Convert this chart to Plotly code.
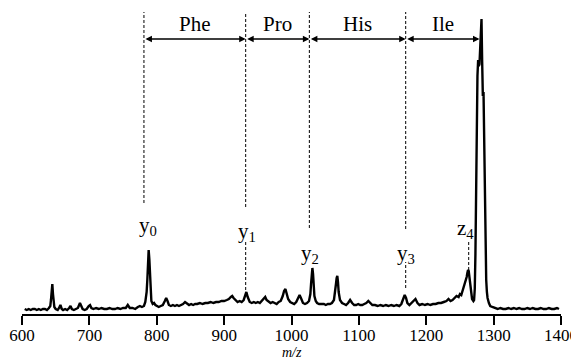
import plotly.graph_objects as go

# ---- spectrum (m/z, relative intensity) ----
mz = (
    [604, 607, 610, 613, 616, 619, 622, 625, 628, 631, 634, 637, 640]
    + [642, 643, 644, 645, 646, 647, 648, 650]
    + [653, 655, 657, 659, 661, 664, 667, 670, 672, 674, 677, 680, 683, 686, 688, 690, 693, 696, 699, 701, 703]
    + [706, 710, 714, 718, 722, 726, 730, 734, 738, 742, 746, 750, 754, 757, 760, 764, 768, 772, 775, 778]
    + [781, 783, 785, 786, 787, 788, 789, 790, 791, 792, 794, 796, 798, 800]
    + [803, 806, 809, 812, 814, 816, 818, 821, 824, 827, 830, 833, 836, 839, 842, 845, 848, 851, 854, 857,
       860, 864, 868, 872, 876, 880, 884, 888, 892, 896, 900, 904]
    + [907, 910, 912, 914, 917, 920, 923, 926, 929, 931, 933, 935, 938, 941, 944]
    + [947, 950, 953, 956, 959, 961, 963, 966, 969, 972, 975, 978, 981, 984, 987, 989, 991, 993, 995, 998,
       1001, 1004, 1007, 1010, 1012, 1014, 1017, 1020, 1023, 1026, 1028, 1029, 1030, 1031, 1032, 1033, 1034,
       1036, 1038, 1041, 1044]
    + [1048, 1051, 1054, 1057, 1060, 1063, 1065, 1066, 1067, 1068, 1069, 1070, 1072, 1075, 1078, 1081, 1084,
       1087, 1090, 1093, 1096, 1099, 1102, 1105, 1108, 1111, 1114, 1117, 1120, 1124, 1128]
    + [1132, 1136, 1140, 1144, 1148, 1152, 1156, 1160, 1163, 1166, 1168, 1170, 1172, 1175, 1178, 1181, 1184,
       1187, 1190, 1194, 1198, 1202, 1206, 1210, 1214, 1218, 1222, 1226, 1230, 1233, 1236, 1239]
    + [1242, 1245, 1248, 1250, 1252, 1254, 1256, 1258, 1260, 1261, 1262, 1263, 1264, 1265, 1266, 1267, 1268,
       1269, 1270, 1271, 1272, 1273, 1274, 1275, 1276, 1277, 1278, 1279, 1280, 1281, 1282, 1283, 1284, 1285,
       1286, 1287, 1288, 1289, 1290, 1291, 1293, 1295, 1298]
    + [1302, 1306, 1310, 1314, 1318, 1322, 1326, 1330, 1334, 1338, 1342, 1346, 1350, 1354, 1358, 1362, 1366,
       1370, 1374, 1378, 1382, 1386, 1390, 1394, 1397]
)
intensity = (
    [5, 4, 5, 4, 5, 5, 4, 5, 4, 5, 5, 4, 6]
    + [8, 14, 24, 30, 20, 11, 7, 5]
    + [4, 6, 9, 5, 4, 5, 4, 6, 8, 5, 4, 5, 6, 11, 7, 5, 4, 5, 8, 9, 6]
    + [5, 6, 5, 6, 5, 5, 6, 5, 5, 6, 5, 6, 6, 9, 6, 6, 5, 7, 8, 7]
    + [8, 12, 22, 34, 52, 64, 55, 35, 20, 13, 10, 11, 9, 8]
    + [7, 8, 9, 13, 16, 13, 9, 8, 9, 8, 9, 8, 9, 10, 12, 10, 9, 10, 9, 10,
       10, 11, 10, 11, 11, 12, 11, 12, 12, 13, 13, 14]
    + [15, 17, 18, 16, 14, 12, 13, 12, 14, 18, 22, 17, 12, 11, 12]
    + [11, 12, 11, 13, 15, 17, 14, 12, 11, 12, 11, 10, 12, 13, 18, 23, 25, 21, 15, 12,
       11, 10, 12, 16, 19, 16, 11, 10, 11, 13, 20, 30, 41, 46, 40, 28, 18,
       13, 11, 10, 10]
    + [10, 9, 10, 10, 11, 14, 22, 30, 36, 38, 32, 22, 14, 11, 10, 9, 11,
       14, 11, 9, 9, 10, 9, 9, 10, 11, 13, 11, 9, 9, 8]
    + [9, 8, 9, 8, 9, 8, 9, 8, 10, 15, 19, 16, 11, 9, 11, 14, 15,
       11, 9, 10, 9, 10, 9, 10, 10, 11, 11, 12, 13, 15, 13, 14]
    + [16, 18, 17, 20, 19, 23, 27, 32, 37, 41, 44, 43, 38, 31, 24, 18, 15,
       14, 13, 14, 25, 60, 130, 200, 238, 254, 248, 250, 262, 280, 295, 252, 218,
       222, 158, 95, 56, 34, 22, 16, 11, 8, 7]
    + [6, 5, 6, 5, 5, 6, 5, 6, 5, 6, 5, 5, 6, 5, 6, 5, 5,
       6, 5, 5, 6, 5, 5, 6, 5]
)

x_ticks = [600, 700, 800, 900, 1000, 1100, 1200, 1300, 1400]

# fragment ion positions (y-series boundaries) and residue names
fragment_mz = [781, 932, 1026.5, 1169.5]
arrow_end_mz = 1279
residues = ["Phe", "Pro", "His", "Ile"]

# ion labels: text, m/z, height
ion_labels = ["y<sub>0</sub>", "y<sub>1</sub>", "y<sub>2</sub>", "y<sub>3</sub>", "z<sub>4</sub>"]
ion_label_mz = [787, 934, 1028, 1170, 1258]
ion_label_h = [88, 82, 60, 60, 85]

# dashed guide segments: (m/z, y_bottom, y_top)
guide_mz = [781, 932, 932, 1026.5, 1169.5, 1169.5, 1263]
guide_lo = [111, 107, 24, 86, 85, 26, 44]
guide_hi = [302, 302, 74, 302, 302, 52, 74]

arrow_y = 275
residue_y = 290

FONT = "Liberation Serif"

fig = go.Figure()
fig.add_trace(go.Scatter(x=mz, y=intensity, mode="lines",
                         line=dict(color="black", width=2.4), showlegend=False,
                         hoverinfo="skip"))

shapes = []
for m, lo, hi in zip(guide_mz, guide_lo, guide_hi):
    shapes.append(dict(type="line", xref="x", yref="y", x0=m, x1=m, y0=lo, y1=hi,
                       line=dict(color="black", width=1, dash="3px,2px")))

annotations = []
bounds = fragment_mz + [arrow_end_mz]
for i, name in enumerate(residues):
    a, b = bounds[i], bounds[i + 1]
    annotations.append(dict(x=b, y=arrow_y, ax=a, ay=arrow_y, xref="x", yref="y",
                            axref="x", ayref="y", text="", showarrow=True,
                            arrowhead=2, startarrowhead=2, arrowside="end+start",
                            arrowsize=1, startarrowsize=1, arrowwidth=1.3, arrowcolor="black",
                            standoff=0, startstandoff=0))
    annotations.append(dict(x=(a + b) / 2, y=residue_y, xref="x", yref="y", text=name,
                            showarrow=False, font=dict(family=FONT, size=21, color="black")))

for t, m, h in zip(ion_labels, ion_label_mz, ion_label_h):
    annotations.append(dict(x=m, y=h, xref="x", yref="y", text=t, showarrow=False,
                            font=dict(family=FONT, size=21, color="black")))

annotations.append(dict(x=1000, y=-0.128, xref="x", yref="paper", yanchor="middle",
                        text="<i>m/z</i>",
                        showarrow=False, font=dict(family=FONT, size=14, color="black")))

fig.update_layout(
    width=571, height=360,
    margin=dict(l=22, r=10, t=11, b=46, autoexpand=False),
    plot_bgcolor="white", paper_bgcolor="white",
    shapes=shapes, annotations=annotations,
    xaxis=dict(range=[600, 1400], tickvals=x_ticks, ticktext=[str(v) for v in x_ticks],
               showline=True, linecolor="black", linewidth=1.5, ticks="outside",
               ticklen=9, tickwidth=1.5, tickcolor="black", showgrid=False, zeroline=False,
               automargin=False, ticklabeloverflow="allow", ticklabelstandoff=-4,
               tickfont=dict(family=FONT, size=17, color="black")),
    yaxis=dict(range=[0, 303], visible=False, showgrid=False, zeroline=False),
)

fig.write_html("out.html", config={"displayModeBar": False},
               post_script="document.body.style.margin='0';")
